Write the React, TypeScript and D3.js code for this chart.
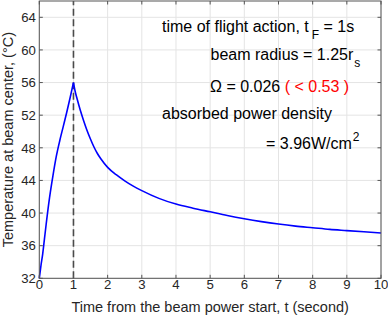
import * as d3 from "d3";

// time (s) and temperature (°C)
const riseTime = [0, 0.05, 0.1, 0.15, 0.2, 0.3, 0.4, 0.5, 0.6, 0.7, 0.8, 0.9, 1.0];
const riseTemp = [32, 33.6, 35.0, 36.8, 38.6, 41.9, 44.6, 47.0, 48.9, 50.6, 52.3, 54.1, 56.0];

const decayTime = [1, 1.05, 1.1, 1.2, 1.3, 1.4, 1.5, 1.6, 1.7, 1.8, 2.0, 2.25, 2.5, 2.75, 3, 3.5, 4, 4.5, 5, 5.5, 6, 6.5, 7, 7.5, 8, 8.5, 9, 9.5, 10];
const decayTemp = [56, 54.9, 54.1, 52.6, 51.3, 50.1, 49.05, 48.1, 47.3, 46.65, 45.6, 44.7, 43.95, 43.3, 42.75, 41.8, 41.1, 40.6, 40.15, 39.7, 39.3, 38.95, 38.65, 38.4, 38.2, 38.0, 37.85, 37.7, 37.55];

const xTicks = [0, 1, 2, 3, 4, 5, 6, 7, 8, 9, 10];
const yTicks = [32, 36, 40, 44, 48, 52, 56, 60, 64];
const flightTime = 1;

const W = 388;
const H = 317;
const FONT = "'Liberation Sans', Arial, Helvetica, sans-serif";

export default function App() {
  const m = { left: 39.3, right: 7, top: 1, bottom: 38.7 };
  const x = d3.scaleLinear().domain([0, 10]).range([m.left, W - m.right]);
  const y = d3.scaleLinear().domain([32, 66]).range([H - m.bottom, m.top]);

  const line = d3
    .line<[number, number]>()
    .x((d) => x(d[0]))
    .y((d) => y(d[1]))
    .curve(d3.curveMonotoneX);

  // two monotone pieces so the peak at t = 1 s stays a sharp cusp
  const rise = line(riseTime.map((t, i) => [t, riseTemp[i]]) as [number, number][]);
  const decay = line(decayTime.map((t, i) => [t, decayTemp[i]]) as [number, number][]);

  const [x0, x1] = x.range();
  const [y0, y1] = y.range();
  const axisColor = "#555";
  const textColor = "#262626";
  const tickLen = 3.5;

  return (
    <div style={{ position: "absolute", left: 0, top: 0 }}>
      <svg width={W} height={H} style={{ display: "block", background: "#fff" }} fontFamily={FONT}>
        {/* grid */}
        <g stroke="#e4e4e4" strokeWidth={1}>
          {xTicks.map((t) => (
            <line key={"gx" + t} x1={x(t)} x2={x(t)} y1={y0} y2={y1} />
          ))}
          {yTicks.map((t) => (
            <line key={"gy" + t} x1={x0} x2={x1} y1={y(t)} y2={y(t)} />
          ))}
        </g>

        {/* flight-time marker */}
        <line
          x1={x(flightTime)}
          x2={x(flightTime)}
          y1={y0}
          y2={y1}
          stroke="#4a4a4a"
          strokeWidth={1.6}
          strokeDasharray="7,3.5"
        />

        {/* temperature curve */}
        <path d={rise ?? ""} fill="none" stroke="#0000ff" strokeWidth={1.6} />
        <path d={decay ?? ""} fill="none" stroke="#0000ff" strokeWidth={1.6} />

        {/* axes box + ticks */}
        <rect x={x0} y={y1} width={x1 - x0} height={y0 - y1} fill="none" stroke={axisColor} strokeWidth={1} />
        <g stroke={axisColor} strokeWidth={1}>
          {xTicks.map((t) => (
            <g key={"tx" + t}>
              <line x1={x(t)} x2={x(t)} y1={y0} y2={y0 - tickLen} />
              <line x1={x(t)} x2={x(t)} y1={y1} y2={y1 + tickLen} />
            </g>
          ))}
          {yTicks.map((t) => (
            <g key={"ty" + t}>
              <line x1={x0} x2={x0 + tickLen} y1={y(t)} y2={y(t)} />
              <line x1={x1} x2={x1 - tickLen} y1={y(t)} y2={y(t)} />
            </g>
          ))}
        </g>

        {/* tick labels */}
        <g fill={textColor} fontSize={13.2}>
          {xTicks.map((t) => (
            <text key={"lx" + t} x={x(t)} y={y0 + 10.5} textAnchor="middle">
              {t}
            </text>
          ))}
          {yTicks.map((t) => (
            <text key={"ly" + t} x={x0 - 3.5} y={y(t) + 4.7} textAnchor="end">
              {t}
            </text>
          ))}
        </g>

        {/* axis labels */}
        <text x={(x0 + x1) / 2} y={312} textAnchor="middle" fontSize={14.5} fill={textColor}>
          Time from the beam power start, t (second)
        </text>
        <text
          transform={`translate(13,${(y0 + y1) / 2}) rotate(-90)`}
          textAnchor="middle"
          fontSize={14.5}
          fill={textColor}
        >
          Temperature at beam center, (°C)
        </text>

        {/* annotations */}
        <g fontSize={16} fill="#000">
          <text x={162} y={32}>
            time of flight action, t
            <tspan dx={3} dy={7} fontSize={12}>F</tspan>
            <tspan dy={-7}> = 1s</tspan>
          </text>
          <text x={210.5} y={59.5}>
            beam radius = 1.25r
            <tspan dx={1} dy={7} fontSize={12}>s</tspan>
          </text>
          <text x={210} y={92}>
            Ω = 0.026 <tspan fill="#ff0000">( &lt; 0.53 )</tspan>
          </text>
          <text x={162} y={119}>
            absorbed power density
          </text>
          <text x={266} y={148.5}>
            = 3.96W/cm
            <tspan dx={1} dy={-8} fontSize={12}>2</tspan>
          </text>
        </g>
      </svg>
    </div>
  );
}
